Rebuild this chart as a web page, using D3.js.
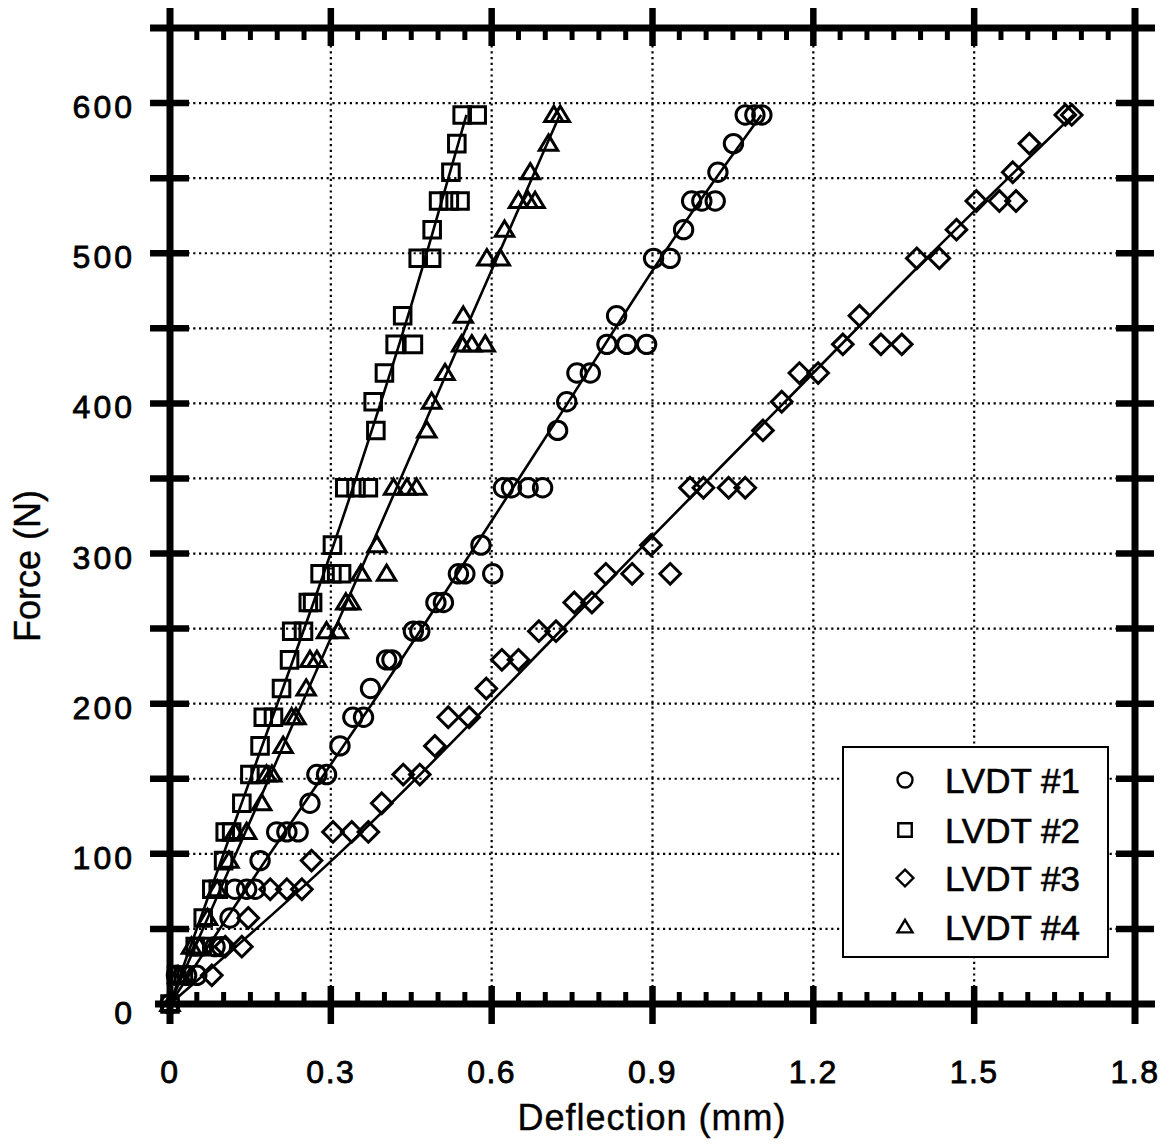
<!DOCTYPE html>
<html>
<head>
<meta charset="utf-8">
<script src="https://cdn.jsdelivr.net/npm/d3@7"></script>
<style>
  body { margin: 0; background: #fff; }
  svg { display: block; }
  text { font-family: "Liberation Sans", Arial, sans-serif; fill: #000; }
</style>
</head>
<body>
<svg id="chart" width="1175" height="1148"></svg>
<script>
// ---- data (deflection mm, force N) ----
const seriesNames = ["LVDT #1", "LVDT #2", "LVDT #3", "LVDT #4"];
const seriesShapes = ["circle", "square", "diamond", "triangle"];

const lvdt1 = [[0,0],[0.012,19.1],[0.031,19.1],[0.050,19.1],[0.084,38.2],[0.096,38.2],
  [0.112,57.3],[0.121,76.4],[0.143,76.4],[0.159,76.4],[0.168,95.5],
  [0.199,114.6],[0.218,114.6],[0.239,114.6],[0.261,133.7],[0.274,152.8],[0.292,152.8],
  [0.317,171.9],[0.341,191],[0.361,191],[0.374,210.1],[0.404,229.2],[0.414,229.2],
  [0.454,248.3],[0.466,248.3],[0.496,267.4],[0.510,267.4],[0.538,286.5],[0.550,286.5],
  [0.602,286.5],[0.580,305.6],[0.622,343.8],[0.637,343.8],[0.668,343.8],[0.695,343.8],
  [0.723,382],[0.740,401.1],[0.759,420.2],[0.784,420.2],[0.815,439.3],[0.852,439.3],
  [0.889,439.3],[0.833,458.4],[0.902,496.6],[0.933,496.6],[0.958,515.7],[0.973,534.8],
  [0.992,534.8],[1.017,534.8],[1.022,553.9],[1.051,573],[1.073,592.1],[1.091,592.1],[1.104,592.1]];

const lvdt2 = [[0,0],[0.012,19.1],[0.025,19.1],[0.047,38.2],[0.060,38.2],[0.062,57.3],
  [0.078,76.4],[0.090,76.4],[0.100,95.5],[0.103,114.6],[0.115,114.6],[0.134,133.7],
  [0.149,152.8],[0.168,152.8],[0.168,171.9],[0.174,191],[0.193,191],[0.208,210.1],
  [0.223,229.2],[0.227,248.3],[0.249,248.3],[0.258,267.4],[0.266,267.4],[0.280,286.5],
  [0.302,286.5],[0.320,286.5],[0.303,305.6],[0.326,343.8],[0.347,343.8],[0.370,343.8],
  [0.384,382],[0.379,401.1],[0.400,420.2],[0.420,439.3],[0.454,439.3],[0.434,458.4],
  [0.463,496.6],[0.488,496.6],[0.489,515.7],[0.501,534.8],[0.521,534.8],[0.541,534.8],
  [0.524,553.9],[0.535,573],[0.545,592.1],[0.573,592.1]];

const lvdt3 = [[0.078,19.1],[0.103,38.2],[0.134,38.2],[0.146,57.3],[0.187,76.4],[0.218,76.4],
  [0.246,76.4],[0.264,95.5],[0.304,114.6],[0.339,114.6],[0.370,114.6],[0.395,133.7],
  [0.435,152.8],[0.466,152.8],[0.494,171.9],[0.519,191],[0.558,191],[0.590,210.1],
  [0.619,229.2],[0.650,229.2],[0.688,248.3],[0.720,248.3],[0.754,267.4],[0.787,267.4],
  [0.813,286.5],[0.862,286.5],[0.933,286.5],[0.897,305.6],[0.970,343.8],[0.995,343.8],
  [1.042,343.8],[1.073,343.8],[1.106,382],[1.141,401.1],[1.174,420.2],[1.209,420.2],
  [1.255,439.3],[1.326,439.3],[1.365,439.3],[1.286,458.4],[1.393,496.6],[1.435,496.6],
  [1.467,515.7],[1.504,534.8],[1.547,534.8],[1.578,534.8],[1.572,553.9],[1.603,573],
  [1.670,592.1],[1.682,592.1]];

const lvdt4 = [[0,0],[0.015,19.1],[0.040,38.2],[0.055,38.2],[0.070,57.3],[0.088,76.4],
  [0.110,95.5],[0.121,114.6],[0.143,114.6],[0.171,133.7],[0.180,152.8],[0.190,152.8],
  [0.211,171.9],[0.227,191],[0.235,191],[0.254,210.1],[0.261,229.2],[0.274,229.2],
  [0.292,248.3],[0.314,248.3],[0.328,267.4],[0.337,267.4],[0.356,286.5],[0.404,286.5],
  [0.386,305.6],[0.417,343.8],[0.442,343.8],[0.460,343.8],[0.479,382],[0.488,401.1],
  [0.513,420.2],[0.544,439.3],[0.563,439.3],[0.588,439.3],[0.547,458.4],[0.591,496.6],
  [0.616,496.6],[0.624,515.7],[0.650,534.8],[0.668,534.8],[0.681,534.8],[0.672,553.9],
  [0.706,573],[0.716,592.1],[0.728,592.1]];

// fitted curves, as drawn in the figure
const fit1 = [[0,0],[0.185,100],[0.379,200],[0.560,300],[0.743,400],[0.917,500],[1.103,592.1]];
const fit2 = [[0,0],[0.152,152.8],[0.308,305.6],[0.438,450],[0.479,500],[0.553,592.1]];
const fit3 = [[0,0],[0.323,100],[0.597,200],[0.867,300],[1.145,400],[1.418,500],[1.685,592.1]];
const fit4 = [[0,0],[0.184,150],[0.370,300],[0.552,450],[0.727,592.1]];

const xTickValues = [0, 0.3, 0.6, 0.9, 1.2, 1.5, 1.8];
const xTickLabels = ["0", "0.3", "0.6", "0.9", "1.2", "1.5", "1.8"];
const yTickValues = [0, 100, 200, 300, 400, 500, 600];

const seriesData = [lvdt1, lvdt2, lvdt3, lvdt4];
const fitData = [fit1, fit2, fit3, fit4];

// ---- layout ----
const svg = d3.select("#chart");
const x = d3.scaleLinear().domain([0, 1.8]).range([170, 1135]);
const y = d3.scaleLinear().domain([0, 650]).range([1004, 28]);

const xMinor = d3.range(0.05, 1.8, 0.05).filter(v => Math.abs(v / 0.3 - Math.round(v / 0.3)) > 0.01);
const yMajor = d3.range(50, 650, 50);
const xGrid = xTickValues.slice(1, -1);

// marker shapes
function shapePath(type, s) {
  if (type === "circle") {
    return "M" + (-s) + ",0A" + s + "," + s + " 0 1,0 " + s + ",0A" + s + "," + s + " 0 1,0 " + (-s) + ",0Z";
  } else if (type === "square") {
    let h = s * 0.9;
    return "M" + (-h) + "," + (-h) + "H" + h + "V" + h + "H" + (-h) + "Z";
  } else if (type === "diamond") {
    let h = s * 1.12;
    return "M0," + (-h) + "L" + h + ",0L0," + h + "L" + (-h) + ",0Z";
  } else {
    let w = s, hh = s * 0.95;
    return "M0," + (-hh) + "L" + w + "," + (hh * 0.75) + "L" + (-w) + "," + (hh * 0.75) + "Z";
  }
}

// grid (dotted)
svg.append("g").selectAll("line")
  .data(yMajor)
  .enter().append("line")
  .attr("x1", x(0)).attr("x2", x(1.8))
  .attr("y1", d => y(d)).attr("y2", d => y(d))
  .attr("stroke", "#000").attr("stroke-width", 2.2)
  .attr("stroke-dasharray", "2.2,3.6");

svg.append("g").selectAll("line")
  .data(xGrid)
  .enter().append("line")
  .attr("x1", d => x(d)).attr("x2", d => x(d))
  .attr("y1", y(650)).attr("y2", y(0))
  .attr("stroke", "#000").attr("stroke-width", 2.2)
  .attr("stroke-dasharray", "2.2,3.6");

// fitted lines
const lineGen = d3.line()
  .x(d => x(d[0]))
  .y(d => y(d[1]))
  .curve(d3.curveBasis);

svg.append("g").selectAll("path")
  .data(fitData)
  .enter().append("path")
  .attr("d", lineGen)
  .attr("fill", "none")
  .attr("stroke", "#000")
  .attr("stroke-width", 2.6);

// markers
seriesData.forEach(function(data, i) {
  svg.append("g").selectAll("path")
    .data(data)
    .enter().append("path")
    .attr("transform", d => "translate(" + x(d[0]) + "," + y(d[1]) + ")")
    .attr("d", shapePath(seriesShapes[i], 9.2))
    .attr("fill", "none")
    .attr("stroke", "#000")
    .attr("stroke-width", 3);
});

// axes frame
const frame = svg.append("g").attr("stroke", "#000");
frame.append("line").attr("x1", x(0)).attr("x2", x(0)).attr("y1", y(650) - 20).attr("y2", y(0) + 20).attr("stroke-width", 7);
frame.append("line").attr("x1", x(1.8)).attr("x2", x(1.8)).attr("y1", y(650) - 20).attr("y2", y(0) + 20).attr("stroke-width", 7);
frame.append("line").attr("x1", x(0) - 20).attr("x2", x(1.8) + 20).attr("y1", y(650)).attr("y2", y(650)).attr("stroke-width", 7);
frame.append("line").attr("x1", x(0) - 15).attr("x2", x(1.8) + 20).attr("y1", y(0)).attr("y2", y(0)).attr("stroke-width", 7);

// y major ticks, both sides
frame.selectAll(".ytl").data(yMajor).enter().append("line")
  .attr("x1", x(0) - 20).attr("x2", x(0) + 19)
  .attr("y1", d => y(d)).attr("y2", d => y(d)).attr("stroke-width", 6.5);
frame.selectAll(".ytr").data(yMajor).enter().append("line")
  .attr("x1", x(1.8) - 19).attr("x2", x(1.8) + 19)
  .attr("y1", d => y(d)).attr("y2", d => y(d)).attr("stroke-width", 6.5);

// x major ticks, top and bottom
frame.selectAll(".xtt").data(xGrid).enter().append("line")
  .attr("x1", d => x(d)).attr("x2", d => x(d))
  .attr("y1", y(650) - 20).attr("y2", y(650) + 18).attr("stroke-width", 6.5);
frame.selectAll(".xtb").data(xGrid).enter().append("line")
  .attr("x1", d => x(d)).attr("x2", d => x(d))
  .attr("y1", y(0) - 18).attr("y2", y(0) + 20).attr("stroke-width", 6.5);

// x minor ticks (inward stubs)
frame.selectAll(".xmt").data(xMinor).enter().append("line")
  .attr("x1", d => x(d)).attr("x2", d => x(d))
  .attr("y1", y(650)).attr("y2", y(650) + 12).attr("stroke-width", 5);
frame.selectAll(".xmb").data(xMinor).enter().append("line")
  .attr("x1", d => x(d)).attr("x2", d => x(d))
  .attr("y1", y(0)).attr("y2", y(0) - 12).attr("stroke-width", 5);

// tick labels
svg.append("g").selectAll("text")
  .data(xTickValues)
  .enter().append("text")
  .attr("x", d => x(d))
  .attr("y", 1083)
  .attr("text-anchor", "middle")
  .attr("font-size", 32)
  .attr("letter-spacing", 1.5)
  .attr("stroke", "#000").attr("stroke-width", 0.8)
  .text((d, i) => xTickLabels[i]);

svg.append("g").selectAll("text")
  .data(yTickValues)
  .enter().append("text")
  .attr("x", 135)
  .attr("y", d => y(d) + (d === 0 ? 20 : 15))
  .attr("text-anchor", "end")
  .attr("font-size", 32)
  .attr("letter-spacing", 3)
  .attr("stroke", "#000").attr("stroke-width", 0.8)
  .text(d => d);

// axis titles
svg.append("text")
  .attr("x", 652).attr("y", 1130)
  .attr("text-anchor", "middle")
  .attr("font-size", 36)
  .attr("letter-spacing", 1)
  .attr("stroke", "#000").attr("stroke-width", 0.4)
  .text("Deflection (mm)");

svg.append("text")
  .attr("transform", "translate(40,566) rotate(-90)")
  .attr("text-anchor", "middle")
  .attr("font-size", 36)
  .attr("stroke", "#000").attr("stroke-width", 0.4)
  .text("Force (N)");

// legend
const legend = svg.append("g");
legend.append("rect")
  .attr("x", 843).attr("y", 747)
  .attr("width", 265).attr("height", 210)
  .attr("fill", "#fff").attr("stroke", "#000").attr("stroke-width", 2);

const legRows = [780, 830, 878, 927];
legend.selectAll("path")
  .data(seriesNames)
  .enter().append("path")
  .attr("transform", (d, i) => "translate(905," + legRows[i] + ")")
  .attr("d", (d, i) => shapePath(seriesShapes[i], 7.5))
  .attr("fill", "none").attr("stroke", "#000").attr("stroke-width", 2.4);

legend.selectAll("text")
  .data(seriesNames)
  .enter().append("text")
  .attr("x", 945)
  .attr("y", (d, i) => legRows[i] + 13)
  .attr("font-size", 35)
  .attr("stroke", "#000").attr("stroke-width", 0.6)
  .text(d => d);
</script>
</body>
</html>
